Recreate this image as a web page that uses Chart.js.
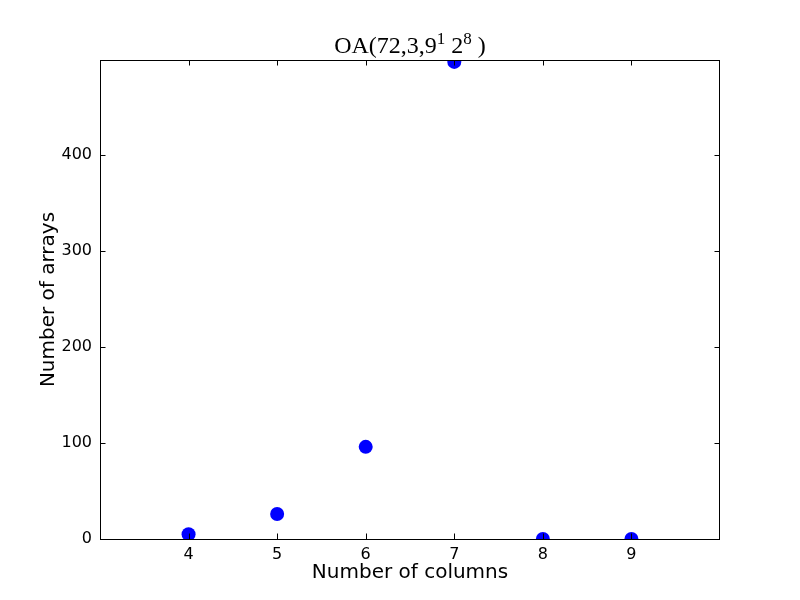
<!DOCTYPE html>
<html>
<head>
<meta charset="utf-8">
<script src="https://cdn.jsdelivr.net/npm/chart.js@4/dist/chart.umd.min.js"></script>
<style>
  html, body { margin: 0; padding: 0; background: #ffffff; }
  #wrap { width: 800px; height: 600px; }
</style>
</head>
<body>
<div id="wrap"><canvas id="c" width="800" height="600"></canvas></div>
<script>
const columns = [4, 5, 6, 7, 8, 9];
const arrays = [5, 26, 96, 497, 0, 0];
const xTicks = [4, 5, 6, 7, 8, 9];
const yTicks = [0, 100, 200, 300, 400];
const xRange = [3, 10];
const yRange = [0, 499];
// title pieces: [text, isSuperscript]
const titleParts = [['OA(72,3,9', false], ['1', true], [' 2', false], ['8', true], [' )', false]];
const xLabel = 'Number of columns';
const yLabel = 'Number of arrays';

const frameTicks = {
  id: 'frameTicks',
  afterDatasetsDraw(chart) {
    const ctx = chart.ctx;
    const a = chart.chartArea;
    const xs = chart.scales.x, ys = chart.scales.y;
    const L = 5.5;
    ctx.save();
    ctx.strokeStyle = '#000';
    ctx.lineWidth = 1;
    ctx.beginPath();
    xTicks.forEach(v => {
      const px = Math.round(xs.getPixelForValue(v)) + 0.5;
      ctx.moveTo(px, a.bottom); ctx.lineTo(px, a.bottom - L);
      ctx.moveTo(px, a.top); ctx.lineTo(px, a.top + L);
    });
    yTicks.forEach(v => {
      const py = Math.round(ys.getPixelForValue(v)) + 0.5;
      ctx.moveTo(a.left, py); ctx.lineTo(a.left + L, py);
      ctx.moveTo(a.right, py); ctx.lineTo(a.right - L, py);
    });
    ctx.stroke();
    ctx.strokeRect(Math.round(a.left) + 0.5, Math.round(a.top) + 0.5,
                   Math.round(a.right - a.left) - 1, Math.round(a.bottom - a.top));
    ctx.restore();
  },
  afterDraw(chart) {
    const ctx = chart.ctx;
    const a = chart.chartArea;
    const fam = "'Liberation Serif', 'DejaVu Serif', serif";
    const big = '24px ' + fam, small = '17px ' + fam;
    ctx.save();
    ctx.fillStyle = '#000';
    ctx.textBaseline = 'alphabetic';
    ctx.textAlign = 'left';
    let total = 0;
    const widths = titleParts.map(([t, sup]) => {
      ctx.font = sup ? small : big;
      const w = ctx.measureText(t).width;
      total += w;
      return w;
    });
    let x = (a.left + a.right) / 2 - total / 2;
    const base = 53;
    titleParts.forEach(([t, sup], i) => {
      ctx.font = sup ? small : big;
      ctx.fillText(t, x, sup ? base - 9 : base);
      x += widths[i];
    });
    ctx.restore();
  }
};

new Chart(document.getElementById('c'), {
  type: 'scatter',
  data: {
    datasets: [{
      data: columns.map((c, i) => ({ x: c, y: arrays[i] })),
      backgroundColor: '#0000ff',
      borderColor: '#0000ff',
      borderWidth: 0,
      pointRadius: 7,
      pointHoverRadius: 7,
      clip: 0
    }]
  },
  options: {
    responsive: false,
    animation: false,
    events: [],
    layout: { padding: { left: 0, right: 80, top: 60, bottom: 0 } },
    plugins: {
      legend: { display: false },
      tooltip: { enabled: false },
      title: { display: false }
    },
    scales: {
      x: {
        type: 'linear',
        min: xRange[0], max: xRange[1],
        afterBuildTicks: s => { s.ticks = xTicks.map(v => ({ value: v })); },
        afterFit: s => { s.height = 61; },
        grid: { display: false, drawTicks: false },
        border: { display: false },
        ticks: {
          color: '#000', padding: 6,
          font: { family: "'DejaVu Sans', sans-serif", size: 16 }
        },
        title: {
          display: true, text: xLabel, color: '#000',
          font: { family: "'DejaVu Sans', sans-serif", size: 20 },
          padding: { top: 15, bottom: 15 }
        }
      },
      y: {
        type: 'linear',
        min: yRange[0], max: yRange[1],
        afterBuildTicks: s => { s.ticks = yTicks.map(v => ({ value: v })); },
        afterFit: s => { s.width = 100; },
        grid: { display: false, drawTicks: false },
        border: { display: false },
        ticks: {
          color: '#000', padding: 8,
          font: { family: "'DejaVu Sans', sans-serif", size: 16 }
        },
        title: {
          display: true, text: yLabel, color: '#000',
          font: { family: "'DejaVu Sans', sans-serif", size: 20 },
          padding: { top: 37, bottom: 37 }
        }
      }
    }
  },
  plugins: [frameTicks]
});
</script>
</body>
</html>
